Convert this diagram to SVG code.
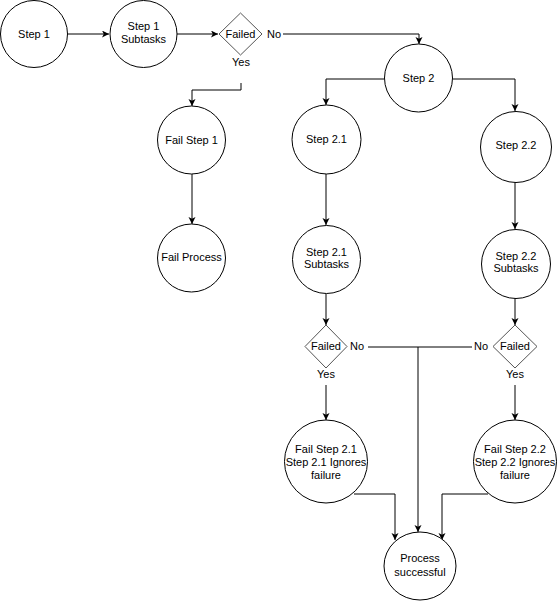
<svg xmlns="http://www.w3.org/2000/svg" width="558" height="604" viewBox="0 0 558 604">
<style>
.n{fill:#fff;stroke:#000;stroke-width:1}
.d{fill:#fff;stroke:#555;stroke-width:1}
.t{font-family:"Liberation Sans",Arial,sans-serif;font-size:11px;fill:#000;text-anchor:middle}
.c{fill:none;stroke:#000;stroke-width:1;marker-end:url(#a)}
.p{fill:none;stroke:#000;stroke-width:1}
</style>
<defs>
<marker id="a" markerUnits="userSpaceOnUse" markerWidth="8" markerHeight="8" refX="7" refY="3.5" orient="auto">
<path d="M0,0 L7,3.5 L0,7 L1.8,3.5 z" fill="#000"/>
</marker>
</defs>
<rect width="558" height="604" fill="#fff"/>
<g id="connectors">
<path class="c" d="M68,34 H109"/>
<path class="c" d="M177,34 H218"/>
<path class="c" d="M283,34 H419 V44"/>
<path class="c" d="M241,83 V90 H192 V106"/>
<path class="c" d="M192,174 V224"/>
<path class="c" d="M384,79 H326 V105"/>
<path class="c" d="M453,79 H515 V111"/>
<path class="c" d="M326,174 V225"/>
<path class="c" d="M515,182 V229"/>
<path class="c" d="M326,294 V325"/>
<path class="c" d="M515,298 V325"/>
<path class="c" d="M326,385 V420"/>
<path class="c" d="M515,385 V420"/>
<path class="p" d="M368,347 H472"/>
<path class="c" d="M418,347 V532"/>
<path class="c" d="M354,494 H395 V540"/>
<path class="c" d="M488,494 H442 V540"/>
</g>
<g id="step1"><circle class="n" cx="34" cy="34" r="33.5"/><text class="t" x="34" y="38">Step 1</text></g>
<g id="step1sub"><circle class="n" cx="143.5" cy="34" r="33.5"/><text class="t" x="143.5" y="30">Step 1</text><text class="t" x="143.5" y="43">Subtasks</text></g>
<g id="failed1"><polygon class="d" points="240.5,13 262,34 240.5,55 219,34"/><text class="t" x="240.5" y="38">Failed</text></g>
<text class="t" x="274" y="38">No</text>
<text class="t" x="241" y="66">Yes</text>
<g id="failstep1"><circle class="n" cx="191.5" cy="140" r="34"/><text class="t" x="191.5" y="144">Fail Step 1</text></g>
<g id="failprocess"><circle class="n" cx="191.5" cy="258" r="34"/><text class="t" x="191.5" y="261">Fail Process</text></g>
<g id="step2"><circle class="n" cx="418.5" cy="78" r="34"/><text class="t" x="418.5" y="82">Step 2</text></g>
<g id="step21"><circle class="n" cx="326.5" cy="139.5" r="34.5"/><text class="t" x="326.5" y="143">Step 2.1</text></g>
<g id="step22"><circle class="n" cx="516" cy="147" r="35.5"/><text class="t" x="516" y="149">Step 2.2</text></g>
<g id="step21sub"><circle class="n" cx="326.5" cy="259.5" r="34"/><text class="t" x="326.5" y="256">Step 2.1</text><text class="t" x="326.5" y="268">Subtasks</text></g>
<g id="step22sub"><circle class="n" cx="516" cy="264" r="34.5"/><text class="t" x="516" y="260">Step 2.2</text><text class="t" x="516" y="272">Subtasks</text></g>
<g id="failed21"><polygon class="d" points="326,325 347,346.5 326,368 305,346.5"/><text class="t" x="326" y="350">Failed</text></g>
<g id="failed22"><polygon class="d" points="515,325 537,346.5 515,368 493,346.5"/><text class="t" x="515" y="350">Failed</text></g>
<text class="t" x="357" y="350">No</text>
<text class="t" x="481" y="350">No</text>
<text class="t" x="326" y="378">Yes</text>
<text class="t" x="515" y="378">Yes</text>
<g id="failstep21"><circle class="n" cx="326" cy="461.5" r="41.5"/><text class="t" x="326" y="453">Fail Step 2.1</text><text class="t" x="326" y="466">Step 2.1 Ignores</text><text class="t" x="326" y="479">failure</text></g>
<g id="failstep22"><circle class="n" cx="515" cy="461.5" r="41.5"/><text class="t" x="515" y="453">Fail Step 2.2</text><text class="t" x="515" y="466">Step 2.2 Ignores</text><text class="t" x="515" y="479">failure</text></g>
<g id="success"><ellipse class="n" cx="420" cy="566" rx="36" ry="34"/><text class="t" x="420" y="562">Process</text><text class="t" x="420" y="576">successful</text></g>
</svg>
